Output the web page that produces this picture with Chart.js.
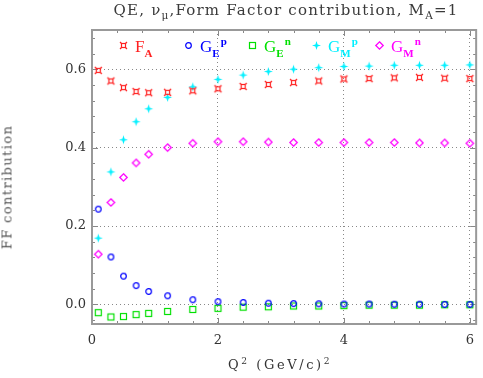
<!DOCTYPE html>
<html>
<head>
<meta charset="utf-8">
<script src="https://cdn.jsdelivr.net/npm/chart.js@4"></script>
<style>
  body { margin: 0; background: #fff; }
  #wrap { position: relative; width: 483px; height: 378px; overflow: hidden; }
  #chart { position: absolute; left: 0; top: 0; }
  .txt { position: absolute; font-family: "DejaVu Serif", serif; color: #333; white-space: nowrap; line-height: 1; }
  .txt sub, .txt sup { font-size: 70%; line-height: 0; }
  #title { top: 3px; left: 286px; transform: translateX(-50%); font-size: 15px; letter-spacing: 1.2px; color: #3a3a3a; }
  #xtitle { top: 358px; left: 280px; transform: translateX(-50%); font-size: 13px; letter-spacing: 2.6px; }
  #ytitle { left: 7px; top: 187px; font-size: 13px; letter-spacing: 1.4px; color: #555; transform: translate(-50%, -50%) rotate(-90deg); }
  .leg { position: absolute; top: 38px; font-family: "Liberation Serif", serif; font-size: 17px; white-space: nowrap; line-height: 1; }
  .leg img { position: absolute; }
  .leg span.lbl { position: absolute; top: 0; }
  .leg sub { font-size: 11px; font-weight: bold; vertical-align: -5px; line-height: 0; }
  .leg sup { font-size: 11px; font-weight: bold; vertical-align: 7px; line-height: 0; margin-left: 1px; }
</style>
</head>
<body>
<div id="wrap">
  <canvas id="chart" width="483" height="378"></canvas>
  <div class="txt" id="title">QE, ν<sub>μ</sub>,Form Factor contribution, M<sub>A</sub>=1</div>
  <div class="txt" id="xtitle">Q<sup>2</sup> (GeV/c)<sup>2</sup></div>
  <div class="txt" id="ytitle">FF contribution</div>
  <div id="legend"></div>
</div>
<script>
// Q^2 values (GeV/c)^2 shared by every series
const qSquared = [0.1, 0.3, 0.5, 0.7, 0.9, 1.2, 1.6, 2.0, 2.4, 2.8, 3.2, 3.6, 4.0, 4.4, 4.8, 5.2, 5.6, 6.0];

// form factor contributions
const faValues  = [0.597, 0.570, 0.553, 0.543, 0.540, 0.541, 0.545, 0.550, 0.556, 0.561, 0.566, 0.570, 0.575, 0.576, 0.578, 0.579, 0.577, 0.576];
const gepValues = [0.243, 0.121, 0.072, 0.048, 0.033, 0.022, 0.012, 0.007, 0.005, 0.003, 0.002, 0.0015, 0.001, 0.001, 0.0005, 0.0005, 0.0, 0.0];
const genValues = [-0.021, -0.032, -0.031, -0.026, -0.023, -0.018, -0.013, -0.010, -0.007, -0.006, -0.004, -0.004, -0.003, -0.002, -0.002, -0.002, -0.001, -0.001];
const gmpValues = [0.169, 0.338, 0.420, 0.466, 0.499, 0.528, 0.555, 0.574, 0.585, 0.594, 0.600, 0.604, 0.607, 0.608, 0.610, 0.610, 0.610, 0.611];
const gmnValues = [0.128, 0.260, 0.324, 0.361, 0.383, 0.400, 0.411, 0.415, 0.415, 0.414, 0.413, 0.413, 0.413, 0.413, 0.413, 0.412, 0.412, 0.411];

// axis ticks
const xTicks = [0, 2, 4, 6];
const yTicks = [0.0, 0.2, 0.4, 0.6];

// series labels (html for sub/superscripts) and colours
const seriesLabels = ['F<sub>A</sub>', 'G<sub>E</sub><sup>p</sup>', 'G<sub>E</sub><sup>n</sup>', 'G<sub>M</sub><sup>p</sup>', 'G<sub>M</sub><sup>n</sup>'];
const seriesNames  = ['FA', 'GEp', 'GEn', 'GMp', 'GMn'];
const seriesColors = ['#ff2020', '#0000ff', '#00e000', '#00f0ff', '#ff00ff'];
const seriesShapes = ['fa', 'circle', 'square', 'star', 'diamond'];
const seriesValues = [faValues, gepValues, genValues, gmpValues, gmnValues];

// Build a small canvas sprite for each marker type
function makeMarker(kind, color) {
    const c = document.createElement('canvas');
    c.width = 11; c.height = 11;
    const g = c.getContext('2d');
    g.strokeStyle = color;
    g.fillStyle = color;
    g.lineWidth = 1.2;
    const m = 5.5;
    if (kind === 'fa') {
        g.strokeRect(3.5, 3.5, 4, 4);
        g.beginPath();
        g.moveTo(2, 2); g.lineTo(3.5, 3.5);
        g.moveTo(9, 2); g.lineTo(7.5, 3.5);
        g.moveTo(2, 9); g.lineTo(3.5, 7.5);
        g.moveTo(9, 9); g.lineTo(7.5, 7.5);
        g.stroke();
    } else if (kind === 'circle') {
        g.beginPath();
        g.arc(m, m, 2.8, 0, Math.PI * 2);
        g.stroke();
    } else if (kind === 'square') {
        g.strokeRect(2.5, 2.5, 6, 6);
    } else if (kind === 'star') {
        const r = 4.5, k = 1.1;
        g.beginPath();
        g.moveTo(m, m - r);
        g.lineTo(m + k, m - k);
        g.lineTo(m + r, m);
        g.lineTo(m + k, m + k);
        g.lineTo(m, m + r);
        g.lineTo(m - k, m + k);
        g.lineTo(m - r, m);
        g.lineTo(m - k, m - k);
        g.closePath();
        g.fill();
    } else if (kind === 'diamond') {
        g.lineWidth = 1.3;
        g.beginPath();
        g.moveTo(m, m - 3.7);
        g.lineTo(m + 3.7, m);
        g.lineTo(m, m + 3.7);
        g.lineTo(m - 3.7, m);
        g.closePath();
        g.stroke();
    }
    return c;
}

const markers = seriesShapes.map((s, i) => makeMarker(s, seriesColors[i]));

// HTML legend inside the plot frame
function buildLegend() {
    const legend = document.getElementById('legend');
    const markerX = [123, 188, 252, 316, 379];
    seriesLabels.forEach((lbl, i) => {
        const item = document.createElement('div');
        item.className = 'leg';
        item.style.left = markerX[i] + 'px';
        item.style.color = seriesColors[i];
        const img = document.createElement('img');
        img.src = markers[i].toDataURL();
        img.style.left = '-5.5px';
        img.style.top = '2px';
        const span = document.createElement('span');
        span.className = 'lbl';
        span.style.left = '12px';
        span.innerHTML = lbl;
        item.appendChild(img);
        item.appendChild(span);
        legend.appendChild(item);
    });
}

// Frame plus inward tick marks on all four sides
const frameTicks = {
    id: 'frameTicks',
    beforeDatasetsDraw(chart) {
        const ctx = chart.ctx;
        const a = chart.chartArea;
        const x = chart.scales.x, y = chart.scales.y;
        ctx.save();
        ctx.strokeStyle = '#888';
        ctx.lineWidth = 1;
        ctx.beginPath();
        for (let i = 0; i <= 15; i++) {
            const v = i * 0.4;
            const px = Math.round(x.getPixelForValue(v)) + 0.5;
            const len = (i % 5 === 0) ? 6 : 3;
            ctx.moveTo(px, a.bottom); ctx.lineTo(px, a.bottom - len);
            ctx.moveTo(px, a.top); ctx.lineTo(px, a.top + len);
        }
        for (let i = -1; i <= 17; i++) {
            const v = i * 0.04;
            const py = Math.round(y.getPixelForValue(v)) + 0.5;
            const len = (i % 5 === 0) ? 6 : 3;
            ctx.moveTo(a.left, py); ctx.lineTo(a.left + len, py);
            ctx.moveTo(a.right, py); ctx.lineTo(a.right - len, py);
        }
        ctx.stroke();
        ctx.lineWidth = 2;
        ctx.strokeStyle = '#999';
        ctx.strokeRect(a.left, a.top, a.right - a.left, a.bottom - a.top);
        ctx.restore();
    }
};

function createChart() {
    const datasets = seriesValues.map((vals, i) => ({
        label: seriesNames[i],
        data: qSquared.map((q, j) => ({ x: q, y: vals[j] })),
        pointStyle: markers[i],
        pointRadius: 5,
        showLine: false
    }));

    new Chart(document.getElementById('chart'), {
        type: 'scatter',
        data: { datasets: datasets },
        options: {
            responsive: false,
            animation: false,
            layout: { autoPadding: false, padding: { top: 30, right: 1, left: 0, bottom: 0 } },
            scales: {
                x: {
                    type: 'linear',
                    min: 0,
                    max: 6.1,
                    afterBuildTicks: scale => { scale.ticks = xTicks.map(v => ({ value: v })); },
                    afterFit: scale => { scale.height = 54; },
                    border: { display: false, dash: [1, 3] },
                    grid: { color: '#888', drawTicks: false, lineWidth: 1 },
                    ticks: {
                        padding: 9,
                        color: '#333',
                        font: { family: 'DejaVu Serif', size: 13 },
                        maxRotation: 0,
                        callback: v => String(v)
                    }
                },
                y: {
                    type: 'linear',
                    min: -0.05,
                    max: 0.7,
                    afterBuildTicks: scale => { scale.ticks = yTicks.map(v => ({ value: v })); },
                    afterFit: scale => { scale.width = 92; },
                    border: { display: false, dash: [1, 3] },
                    grid: { color: '#888', drawTicks: false, lineWidth: 1 },
                    ticks: {
                        padding: 6,
                        color: '#333',
                        font: { family: 'DejaVu Serif', size: 13 },
                        callback: v => Number(v).toFixed(1)
                    }
                }
            },
            plugins: {
                legend: { display: false },
                tooltip: { enabled: false }
            }
        },
        plugins: [frameTicks]
    });
}

buildLegend();
createChart();
</script>
</body>
</html>
